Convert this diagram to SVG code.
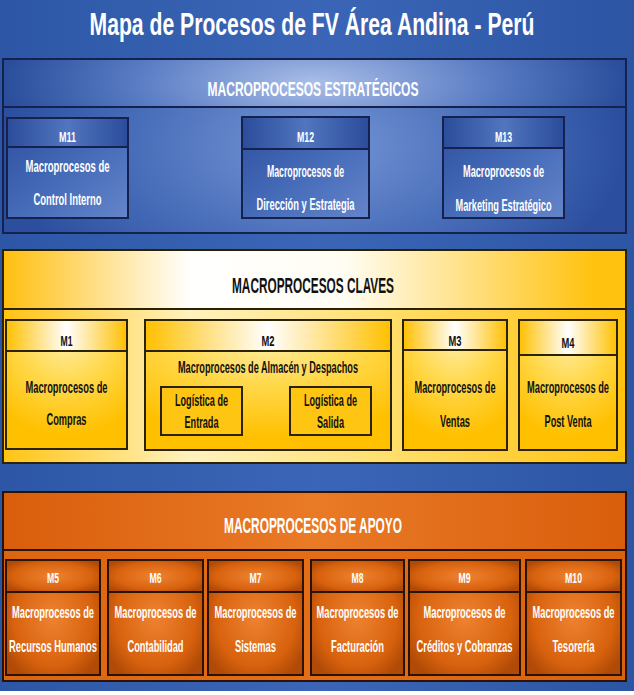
<svg xmlns="http://www.w3.org/2000/svg" width="634" height="695" viewBox="0 0 634 695">
<defs>
<style>
.t{font-family:"Liberation Sans Narrow","Liberation Sans",Arial,sans-serif;font-weight:bold;text-anchor:middle}
.w{fill:#ffffff}
.k{fill:#111111}
.lbl{font-size:15px}
.bd{font-size:16px}
.bk{font-size:17px}
.sb{stroke:#16224e;stroke-width:2}
.yb{stroke:#2a2200;stroke-width:2}
.ob{stroke:#2b1304;stroke-width:2}
</style>
<linearGradient id="bg" x1="0" y1="0" x2="1" y2="0">
<stop offset="0" stop-color="#2d57a6"/><stop offset="0.5" stop-color="#3b66b7"/><stop offset="1" stop-color="#2c55a4"/>
</linearGradient>
<radialGradient id="shead" cx="0.5" cy="0.5" r="0.5" gradientTransform="translate(0.5 0.5) scale(1 4) translate(-0.5 -0.5)">
<stop offset="0" stop-color="#aabfe8"/><stop offset="0.6" stop-color="#5679c2"/><stop offset="1" stop-color="#2b4e9c"/>
</radialGradient>
<radialGradient id="sbody" cx="0.5" cy="0.5" r="0.5" gradientTransform="translate(0.5 0.5) scale(1 2) translate(-0.5 -0.5)">
<stop offset="0" stop-color="#7696d6"/><stop offset="0.7" stop-color="#3f65b3"/><stop offset="1" stop-color="#2b4f9e"/>
</radialGradient>
<linearGradient id="bxh" x1="0" y1="0" x2="1" y2="0">
<stop offset="0" stop-color="#2a4c9a"/><stop offset="0.5" stop-color="#5275bf"/><stop offset="1" stop-color="#2a4c9a"/>
</linearGradient>
<linearGradient id="bxb" x1="0" y1="0" x2="1" y2="1">
<stop offset="0" stop-color="#2b4f9f"/><stop offset="0.6" stop-color="#4a6fbb"/><stop offset="1" stop-color="#6585ca"/>
</linearGradient>
<linearGradient id="yhead" x1="0" y1="0" x2="1" y2="0">
<stop offset="0" stop-color="#ffbf0f"/><stop offset="0.3" stop-color="#ffffff"/><stop offset="0.55" stop-color="#fffdf3"/><stop offset="0.95" stop-color="#ffc20e"/>
</linearGradient>
<linearGradient id="ybody" x1="0" y1="0" x2="1" y2="0">
<stop offset="0" stop-color="#ffc413"/><stop offset="0.3" stop-color="#fff2c0"/><stop offset="0.6" stop-color="#ffe070"/><stop offset="1" stop-color="#ffc20e"/>
</linearGradient>
<linearGradient id="ybh" x1="0" y1="0" x2="1" y2="0">
<stop offset="0" stop-color="#ffc000"/><stop offset="0.5" stop-color="#ffffff"/><stop offset="1" stop-color="#ffc000"/>
</linearGradient>
<radialGradient id="ybb" cx="0.5" cy="0.1" r="0.8">
<stop offset="0" stop-color="#fff0b0"/><stop offset="0.5" stop-color="#ffd84a"/><stop offset="1" stop-color="#ffc000"/>
</radialGradient>
<linearGradient id="ohead" x1="0" y1="0" x2="1" y2="0">
<stop offset="0" stop-color="#d95e0c"/><stop offset="0.5" stop-color="#e97a26"/><stop offset="1" stop-color="#d95e0c"/>
</linearGradient>
<linearGradient id="obody" x1="0" y1="0" x2="1" y2="0">
<stop offset="0" stop-color="#dc650f"/><stop offset="0.5" stop-color="#e46e16"/><stop offset="1" stop-color="#d9620d"/>
</linearGradient>
<radialGradient id="obx" cx="0.5" cy="0.5" r="0.6">
<stop offset="0" stop-color="#ee8331"/><stop offset="0.7" stop-color="#d8620e"/><stop offset="1" stop-color="#b04a06"/>
</radialGradient>
</defs>

<rect x="0" y="0" width="634" height="691" fill="url(#bg)"/>
<rect x="0" y="691" width="634" height="4" fill="#ffffff"/>

<text class="t w" x="312" y="35" font-size="31" textLength="445" lengthAdjust="spacingAndGlyphs">Mapa de Procesos de FV Área Andina - Perú</text>

<g id="estrategicos">
<rect x="3" y="59" width="623" height="174" fill="url(#sbody)" class="sb"/>
<rect x="3" y="59" width="623" height="48" fill="url(#shead)" class="sb"/>
<text class="t w" x="313" y="96" font-size="20" textLength="211" lengthAdjust="spacingAndGlyphs">MACROPROCESOS ESTRATÉGICOS</text>
</g>

<g id="M11">
<rect x="7" y="118" width="121" height="100" fill="url(#bxb)" class="sb"/>
<rect x="7" y="118" width="121" height="29" fill="url(#bxh)" class="sb"/>
<text class="t w lbl" x="67.5" y="142" textLength="17" lengthAdjust="spacingAndGlyphs">M11</text>
<text class="t w bd" x="67.5" y="172" textLength="84" lengthAdjust="spacingAndGlyphs">Macroprocesos de</text>
<text class="t w bd" x="67.5" y="205" textLength="68" lengthAdjust="spacingAndGlyphs">Control Interno</text>
</g>

<g id="M12">
<rect x="242" y="117" width="127" height="101" fill="url(#bxb)" class="sb"/>
<rect x="242" y="117" width="127" height="32" fill="url(#bxh)" class="sb"/>
<text class="t w lbl" x="305.5" y="142" textLength="17" lengthAdjust="spacingAndGlyphs">M12</text>
<text class="t w bd" x="305.5" y="177" textLength="77" lengthAdjust="spacingAndGlyphs">Macroprocesos de</text>
<text class="t w bd" x="305.5" y="210" textLength="98" lengthAdjust="spacingAndGlyphs">Dirección y Estrategia</text>
</g>

<g id="M13">
<rect x="443" y="117" width="121" height="101" fill="url(#bxb)" class="sb"/>
<rect x="443" y="117" width="121" height="31" fill="url(#bxh)" class="sb"/>
<text class="t w lbl" x="503.5" y="142" textLength="17" lengthAdjust="spacingAndGlyphs">M13</text>
<text class="t w bd" x="503.5" y="177" textLength="81" lengthAdjust="spacingAndGlyphs">Macroprocesos de</text>
<text class="t w bd" x="503.5" y="211" textLength="96" lengthAdjust="spacingAndGlyphs">Marketing Estratégico</text>
</g>

<g id="claves">
<rect x="3" y="250" width="623" height="213" fill="url(#ybody)" class="yb"/>
<rect x="3" y="250" width="623" height="59" fill="url(#yhead)" class="yb"/>
<text class="t k" x="313" y="293" font-size="22" textLength="162" lengthAdjust="spacingAndGlyphs">MACROPROCESOS CLAVES</text>
</g>

<g id="M1">
<rect x="6" y="320" width="121" height="129" fill="url(#ybb)" class="yb"/>
<rect x="6" y="320" width="121" height="31" fill="url(#ybh)" class="yb"/>
<text class="t k lbl" x="66.5" y="346" textLength="12" lengthAdjust="spacingAndGlyphs">M1</text>
<text class="t k bk" x="66.5" y="393" textLength="82" lengthAdjust="spacingAndGlyphs">Macroprocesos de</text>
<text class="t k bk" x="66.5" y="425" textLength="40" lengthAdjust="spacingAndGlyphs">Compras</text>
</g>

<g id="M2">
<rect x="145" y="320" width="246" height="130" fill="url(#ybb)" class="yb"/>
<rect x="145" y="320" width="246" height="31" fill="url(#ybh)" class="yb"/>
<text class="t k lbl" x="268" y="346" textLength="13" lengthAdjust="spacingAndGlyphs">M2</text>
<text class="t k bk" x="268" y="373" textLength="180" lengthAdjust="spacingAndGlyphs">Macroprocesos de Almacén y Despachos</text>
</g>

<g id="M2-entrada">
<rect x="161" y="387" width="81" height="48" fill="#ffc513" class="yb"/>
<text class="t k bk" x="201.5" y="406" textLength="53" lengthAdjust="spacingAndGlyphs">Logística de</text>
<text class="t k bk" x="201.5" y="428" textLength="34" lengthAdjust="spacingAndGlyphs">Entrada</text>
</g>

<g id="M2-salida">
<rect x="290" y="387" width="81" height="48" fill="#ffc513" class="yb"/>
<text class="t k bk" x="330.5" y="406" textLength="53" lengthAdjust="spacingAndGlyphs">Logística de</text>
<text class="t k bk" x="330.5" y="428" textLength="27" lengthAdjust="spacingAndGlyphs">Salida</text>
</g>

<g id="M3">
<rect x="403" y="320" width="104" height="130" fill="url(#ybb)" class="yb"/>
<rect x="403" y="320" width="104" height="30" fill="url(#ybh)" class="yb"/>
<text class="t k lbl" x="455" y="346" textLength="13" lengthAdjust="spacingAndGlyphs">M3</text>
<text class="t k bk" x="455" y="393" textLength="81" lengthAdjust="spacingAndGlyphs">Macroprocesos de</text>
<text class="t k bk" x="455" y="427" textLength="30" lengthAdjust="spacingAndGlyphs">Ventas</text>
</g>

<g id="M4">
<rect x="519" y="320" width="98" height="130" fill="url(#ybb)" class="yb"/>
<rect x="519" y="320" width="98" height="35" fill="url(#ybh)" class="yb"/>
<text class="t k lbl" x="568" y="348" textLength="13" lengthAdjust="spacingAndGlyphs">M4</text>
<text class="t k bk" x="568" y="393" textLength="82" lengthAdjust="spacingAndGlyphs">Macroprocesos de</text>
<text class="t k bk" x="568" y="427" textLength="47" lengthAdjust="spacingAndGlyphs">Post Venta</text>
</g>

<g id="apoyo">
<rect x="3" y="492" width="623" height="189" fill="url(#obody)" class="ob"/>
<rect x="3" y="492" width="623" height="58" fill="url(#ohead)" class="ob"/>
<text class="t w" x="313" y="533" font-size="22" textLength="178" lengthAdjust="spacingAndGlyphs">MACROPROCESOS DE APOYO</text>
</g>

<g id="M5">
<rect x="6" y="560" width="94" height="115" fill="url(#obx)" class="ob"/>
<rect x="6" y="560" width="94" height="32" fill="url(#obx)" class="ob"/>
<text class="t w lbl" x="53" y="583" textLength="12" lengthAdjust="spacingAndGlyphs">M5</text>
<text class="t w bd" x="53" y="618" textLength="82" lengthAdjust="spacingAndGlyphs">Macroprocesos de</text>
<text class="t w bd" x="53" y="652" textLength="88" lengthAdjust="spacingAndGlyphs">Recursos Humanos</text>
</g>

<g id="M6">
<rect x="108" y="560" width="95" height="115" fill="url(#obx)" class="ob"/>
<rect x="108" y="560" width="95" height="32" fill="url(#obx)" class="ob"/>
<text class="t w lbl" x="155.5" y="583" textLength="12" lengthAdjust="spacingAndGlyphs">M6</text>
<text class="t w bd" x="155.5" y="618" textLength="82" lengthAdjust="spacingAndGlyphs">Macroprocesos de</text>
<text class="t w bd" x="155.5" y="652" textLength="56" lengthAdjust="spacingAndGlyphs">Contabilidad</text>
</g>

<g id="M7">
<rect x="208" y="560" width="95" height="115" fill="url(#obx)" class="ob"/>
<rect x="208" y="560" width="95" height="32" fill="url(#obx)" class="ob"/>
<text class="t w lbl" x="255.5" y="583" textLength="12" lengthAdjust="spacingAndGlyphs">M7</text>
<text class="t w bd" x="255.5" y="618" textLength="82" lengthAdjust="spacingAndGlyphs">Macroprocesos de</text>
<text class="t w bd" x="255.5" y="652" textLength="41" lengthAdjust="spacingAndGlyphs">Sistemas</text>
</g>

<g id="M8">
<rect x="311" y="560" width="93" height="115" fill="url(#obx)" class="ob"/>
<rect x="311" y="560" width="93" height="32" fill="url(#obx)" class="ob"/>
<text class="t w lbl" x="357.5" y="583" textLength="12" lengthAdjust="spacingAndGlyphs">M8</text>
<text class="t w bd" x="357.5" y="618" textLength="82" lengthAdjust="spacingAndGlyphs">Macroprocesos de</text>
<text class="t w bd" x="357.5" y="652" textLength="53" lengthAdjust="spacingAndGlyphs">Facturación</text>
</g>

<g id="M9">
<rect x="409" y="560" width="111" height="115" fill="url(#obx)" class="ob"/>
<rect x="409" y="560" width="111" height="32" fill="url(#obx)" class="ob"/>
<text class="t w lbl" x="464.5" y="583" textLength="12" lengthAdjust="spacingAndGlyphs">M9</text>
<text class="t w bd" x="464.5" y="618" textLength="82" lengthAdjust="spacingAndGlyphs">Macroprocesos de</text>
<text class="t w bd" x="464.5" y="652" textLength="96" lengthAdjust="spacingAndGlyphs">Créditos y Cobranzas</text>
</g>

<g id="M10">
<rect x="526" y="560" width="95" height="115" fill="url(#obx)" class="ob"/>
<rect x="526" y="560" width="95" height="32" fill="url(#obx)" class="ob"/>
<text class="t w lbl" x="573.5" y="583" textLength="17" lengthAdjust="spacingAndGlyphs">M10</text>
<text class="t w bd" x="573.5" y="618" textLength="82" lengthAdjust="spacingAndGlyphs">Macroprocesos de</text>
<text class="t w bd" x="573.5" y="652" textLength="42" lengthAdjust="spacingAndGlyphs">Tesorería</text>
</g>

<g id="connectors"/>
</svg>
